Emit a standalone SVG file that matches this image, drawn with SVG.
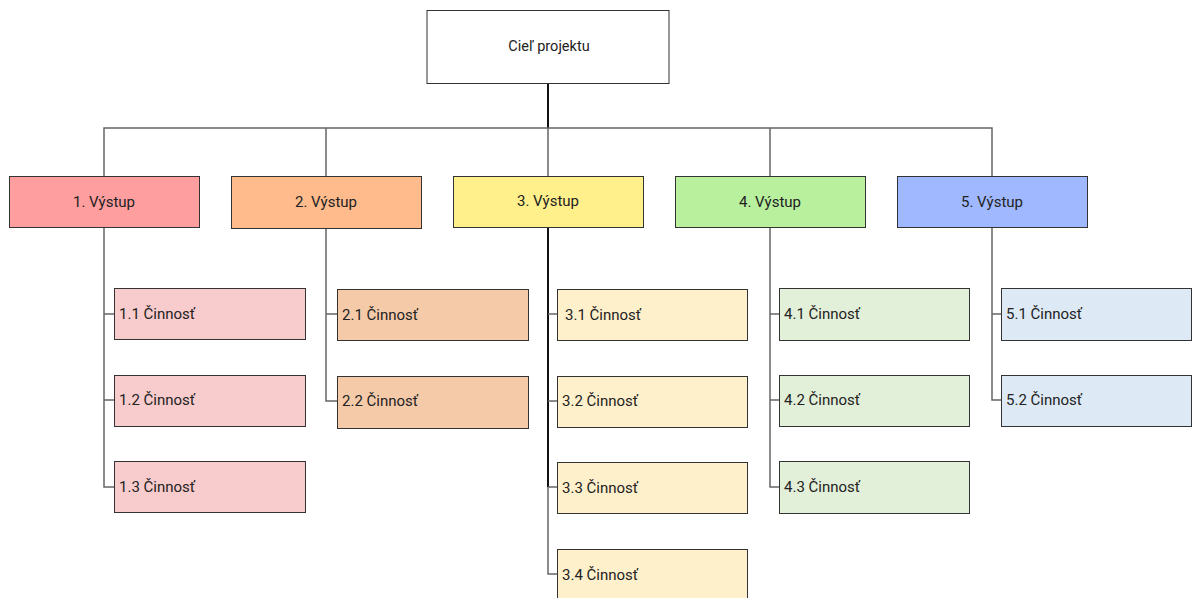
<svg xmlns="http://www.w3.org/2000/svg" width="1195" height="598" viewBox="0 0 1195 598">
<style>
.box{stroke:#333;stroke-width:1}
.t{font-family:Roboto,"Liberation Sans",sans-serif;font-size:15px;fill:#222}
.c{text-anchor:middle}
.ln{fill:none;stroke:#666;stroke-width:1.5}
.dk{fill:none;stroke:#111;stroke-width:2}
</style>
<rect width="1195" height="598" fill="#fff"/>
<g id="connectors">
<path class="dk" d="M548 83V128"/>
<path class="ln" d="M104 176V128H992V176M326 128V176M548 128V176M770 128V176"/>
<path class="ln" d="M104 227V487H114M104 314H114M104 400H114"/>
<path class="ln" d="M326 228V401H337M326 314H337"/>
<path class="dk" d="M548 227V487"/>
<path class="ln" d="M548 487V574H557M548 314H557M548 401H557M548 487H557"/>
<path class="ln" d="M770 227V487H779M770 314H779M770 400H779"/>
<path class="ln" d="M992 227V400H1001M992 314H1001"/>
</g>
<g id="root"><rect class="box" x="427" y="10.5" width="242" height="73" fill="#fff"/><text class="t c" x="549" y="51" style="font-size:14.5px">Cieľ projektu</text></g>
<g id="v1"><rect class="box" x="9.5" y="176.5" width="190" height="51" fill="#ff9e9e"/><text class="t c" x="104" y="207">1. Výstup</text></g>
<g id="v2"><rect class="box" x="231.5" y="176.5" width="190" height="52" fill="#ffbb8c"/><text class="t c" x="326" y="207">2. Výstup</text></g>
<g id="v3"><rect class="box" x="453.5" y="176.5" width="190" height="51" fill="#fff08c"/><text class="t c" x="548" y="206">3. Výstup</text></g>
<g id="v4"><rect class="box" x="675.5" y="176.5" width="190" height="51" fill="#b8f09e"/><text class="t c" x="770" y="207">4. Výstup</text></g>
<g id="v5"><rect class="box" x="897.5" y="176.5" width="190" height="51" fill="#a0b8ff"/><text class="t c" x="992" y="207">5. Výstup</text></g>
<g id="a11"><rect class="box" x="114.5" y="288.5" width="191" height="51" fill="#f8cccc"/><text class="t" x="119" y="319">1.1 Činnosť</text></g>
<g id="a12"><rect class="box" x="114.5" y="375.5" width="191" height="51" fill="#f8cccc"/><text class="t" x="119" y="405">1.2 Činnosť</text></g>
<g id="a13"><rect class="box" x="114.5" y="461.5" width="191" height="51" fill="#f8cccc"/><text class="t" x="119" y="492">1.3 Činnosť</text></g>
<g id="a21"><rect class="box" x="337.5" y="289.5" width="191" height="51" fill="#f5caa9"/><text class="t" x="342" y="320">2.1 Činnosť</text></g>
<g id="a22"><rect class="box" x="337.5" y="376.5" width="191" height="52" fill="#f5caa9"/><text class="t" x="342" y="406">2.2 Činnosť</text></g>
<g id="a31"><rect class="box" x="557.5" y="289.5" width="190" height="51" fill="#fff0cc"/><text class="t" x="565" y="320">3.1 Činnosť</text></g>
<g id="a32"><rect class="box" x="557.5" y="376.5" width="190" height="51" fill="#fff0cc"/><text class="t" x="562" y="406">3.2 Činnosť</text></g>
<g id="a33"><rect class="box" x="557.5" y="462.5" width="190" height="51" fill="#fff0cc"/><text class="t" x="562" y="493">3.3 Činnosť</text></g>
<g id="a34"><rect class="box" x="557.5" y="549.5" width="190" height="60" fill="#fff0cc"/><text class="t" x="562" y="580">3.4 Činnosť</text></g>
<g id="a41"><rect class="box" x="779.5" y="288.5" width="190" height="52" fill="#e2efd9"/><text class="t" x="784" y="319">4.1 Činnosť</text></g>
<g id="a42"><rect class="box" x="779.5" y="375.5" width="190" height="51" fill="#e2efd9"/><text class="t" x="784" y="405">4.2 Činnosť</text></g>
<g id="a43"><rect class="box" x="779.5" y="461.5" width="190" height="52" fill="#e2efd9"/><text class="t" x="784" y="492">4.3 Činnosť</text></g>
<g id="a51"><rect class="box" x="1001.5" y="288.5" width="190" height="52" fill="#dde9f5"/><text class="t" x="1006" y="319">5.1 Činnosť</text></g>
<g id="a52"><rect class="box" x="1001.5" y="375.5" width="190" height="51" fill="#dde9f5"/><text class="t" x="1006" y="405">5.2 Činnosť</text></g>
</svg>
